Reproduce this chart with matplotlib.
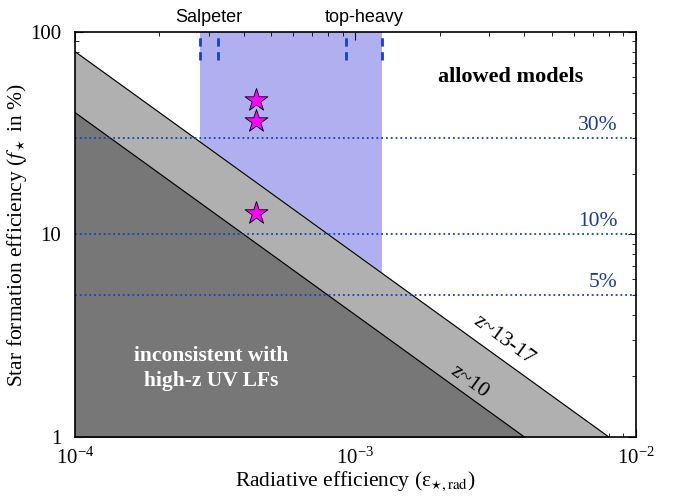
import numpy as np
import matplotlib
matplotlib.use("Agg")
import matplotlib.pyplot as plt

plt.rcParams['font.family'] = ['Liberation Serif', 'DejaVu Serif']
plt.rcParams['mathtext.fontset'] = 'stix'

# constraints f* x eps (f in %) from UV luminosity functions
z10_const = 0.004      # z~10
z1317_const = 0.008    # z~13-17

# IMF range of radiative efficiency
imf_lo = 2.79e-4
imf_hi = 1.24e-3
imf_marks = [2.79e-4, 3.23e-4, 9.25e-4, 1.24e-3]

# model points
star_eps = [4.42e-4, 4.42e-4, 4.42e-4]
star_f = [46.2, 36.4, 12.8]

# reference efficiencies
ref_f = [30, 10, 5]
ref_labels = ["30%", "10%", "5%"]

fig = plt.figure(figsize=(6.78, 4.96), dpi=100)
ax = fig.add_axes([0.1106, 0.119, 0.8274, 0.8165])
ax.set_xscale("log")
ax.set_yscale("log")
ax.set_xlim(1e-4, 1e-2)
ax.set_ylim(1, 100)

# blue band for the IMF range
ax.axvspan(imf_lo, imf_hi, color="#b0b0f0", lw=0, zorder=1)
for xm in imf_marks:
    ax.plot([xm, xm], [72.8, 100], color="#1040d0", ls=(0, (3, 2)), lw=2, zorder=2)

# excluded regions
x1 = np.array([1e-4, z1317_const])
ax.fill_between(x1, z1317_const / x1, 1, color="#b0b0b0", zorder=3)
ax.plot(x1, z1317_const / x1, color="k", lw=0.8, zorder=4)
x2 = np.array([1e-4, z10_const])
ax.fill_between(x2, z10_const / x2, 1, color="#777777", zorder=3)
ax.plot(x2, z10_const / x2, color="k", lw=0.8, zorder=4)

# horizontal reference lines
for fv, lab in zip(ref_f, ref_labels):
    ax.axhline(fv, color="#1a3fc0", ls=":", lw=1.3, zorder=5)
    ax.text(8.6e-3, fv * 1.035, lab, color="#1a3aa0", fontsize=15.5,
            ha="right", va="bottom", zorder=6)

ax.scatter(star_eps, star_f, marker="*", s=300, color="#ff00ff",
           edgecolor="k", linewidth=0.6, zorder=7)

# annotations
ax.text(0.777, 0.89, "allowed models", transform=ax.transAxes, fontsize=16,
        fontweight="bold", ha="center", va="center")
ax.text(0.243, 0.17, "inconsistent with\nhigh-z UV LFs", transform=ax.transAxes,
        fontsize=15.5, fontweight="bold", color="white", ha="center",
        va="center", linespacing=1.35)
ax.text(0.765, 0.238, "z~13-17", transform=ax.transAxes, fontsize=15.5,
        rotation=-36, ha="center", va="center")
ax.text(0.703, 0.135, "z~10", transform=ax.transAxes, fontsize=15.5,
        rotation=-36, ha="center", va="center")

ax.text(np.sqrt(imf_marks[0] * imf_marks[1]), 1.037, "Salpeter",
        transform=ax.get_xaxis_transform(), family="Liberation Sans",
        fontsize=13, ha="center", va="center")
ax.text(np.sqrt(imf_marks[2] * imf_marks[3]), 1.037, "top-heavy",
        transform=ax.get_xaxis_transform(), family="Liberation Sans",
        fontsize=13, ha="center", va="center")

ax.set_xlabel(r"Radiative efficiency (ε$_{\star,\rm rad}$)", fontsize=15.5,
              labelpad=0)
ax.set_ylabel(r"Star formation efficiency ($f_\star$ in %)", fontsize=15.5,
              labelpad=1)
ax.set_yticks([1, 10, 100])
ax.set_yticklabels(["1", "10", "100"])
ax.tick_params(which="both", direction="in", top=True, right=True, labelsize=15)
ax.tick_params(which="major", length=6)
ax.tick_params(which="minor", length=3)
ax.tick_params(axis="x", pad=8)
ax.tick_params(axis="y", pad=10)
for sp in ax.spines.values():
    sp.set_linewidth(1.2)
    sp.set_zorder(10)

fig.savefig("out.png", dpi=100)
